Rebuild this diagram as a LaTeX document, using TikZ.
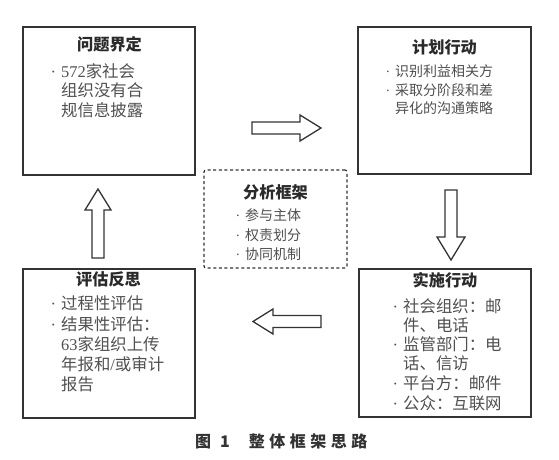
\documentclass[tikz,border=0pt]{standalone}
\usepackage{fontspec}
\newfontfamily\cjk{Noto Sans CJK SC}
\newfontfamily\lat{Liberation Serif}
\newcommand\bul{\llap{{\lat ·}\hspace{5pt}}}
\definecolor{edge}{HTML}{333333}
\definecolor{bodytext}{HTML}{505050}
\definecolor{titletext}{HTML}{2A2A2A}
\begin{document}
\begin{tikzpicture}[x=1pt,y=-1pt,
  box/.style={draw=edge, line width=1.3pt, rectangle, inner sep=0pt, outer sep=0pt, fill=white},
  dbox/.style={draw=edge, line width=1.2pt, dash pattern=on 3pt off 2.6pt, rounded corners=2pt, rectangle, inner sep=0pt, outer sep=0pt},
  ttl/.style={font=\cjk\bfseries\fontsize{16.2pt}{18pt}\selectfont, text=titletext, inner sep=0pt},
  bigline/.style={font=\cjk\fontsize{16.4pt}{19pt}\selectfont, text=bodytext, inner sep=0pt, anchor=west},
  smallline/.style={font=\cjk\fontsize{14pt}{17pt}\selectfont, text=bodytext, inner sep=0pt, anchor=west},
  blockarrow/.style={draw=edge, line width=1.3pt, fill=white, line join=miter}
]
\useasboundingbox (0,0) rectangle (559,460);
\fill[white] (0,0) rectangle (559,460);

% boxes
\node[box, minimum width=172pt, minimum height=148pt] (tl) at (109,101) {};
\node[box, minimum width=173pt, minimum height=147pt] (tr) at (444.5,100.5) {};
\node[box, minimum width=172pt, minimum height=149pt] (bl) at (109,343.5) {};
\node[box, minimum width=172pt, minimum height=148pt] (br) at (445,343) {};
\node[dbox, minimum width=143pt, minimum height=98pt] (fw) at (275.5,219) {};

% titles
\node[ttl] (tlt) at (109.5,44) {问题界定};
\node[ttl] (trt) at (444.5,47) {计划行动};
\node[ttl] (blt) at (108.5,279) {评估反思};
\node[ttl] (brt) at (445,280) {实施行动};
\node[ttl] (fwt) at (275.5,192) {分析框架};

% top-left text
\node[bigline] (tl1) at (61,71) {\bul{\lat 572}家社会};
\node[bigline] (tl2) at (61,90.5) {组织没有合};
\node[bigline] (tl3) at (61,110) {规信息披露};

% top-right text
\node[smallline] (tr1) at (395,71) {\bul 识别利益相关方};
\node[smallline] (tr2) at (395,90) {\bul 采取分阶段和差};
\node[smallline] (tr3) at (395,108.5) {异化的沟通策略};

% framework text
\node[smallline] (fw1) at (245,215) {\bul 参与主体};
\node[smallline] (fw2) at (245,235) {\bul 权责划分};
\node[smallline] (fw3) at (245,254) {\bul 协同机制};

% bottom-left text
\node[bigline] (bl1) at (61,303.5) {\bul 过程性评估};
\node[bigline] (bl2) at (61,324) {\bul 结果性评估：};
\node[bigline] (bl3) at (61,344) {{\lat 63}家组织上传};
\node[bigline] (bl4) at (61,364) {年报和{\lat /}或审计};
\node[bigline] (bl5) at (61,384) {报告};

% bottom-right text
\node[bigline] (br1) at (403,306) {\bul 社会组织：邮};
\node[bigline] (br2) at (403,325) {件、电话};
\node[bigline] (br3) at (403,344.5) {\bul 监管部门：电};
\node[bigline] (br4) at (403,363.5) {话、信访};
\node[bigline] (br5) at (403,383.5) {\bul 平台方：邮件};
\node[bigline] (br6) at (403,403) {\bul 公众：互联网};

% block arrows
\draw[blockarrow] (252,122) -- (300,122) -- (300,115) -- (321,128) -- (300,141) -- (300,134) -- (252,134) -- cycle;
\draw[blockarrow] (445,190) -- (457,190) -- (457,237) -- (465,237) -- (451,260) -- (437,237) -- (445,237) -- cycle;
\draw[blockarrow] (321,315.5) -- (273,315.5) -- (273,309) -- (253,321.5) -- (273,334) -- (273,327.5) -- (321,327.5) -- cycle;
\draw[blockarrow] (92,258) -- (92,210) -- (85,210) -- (98,189) -- (111,210) -- (104,210) -- (104,258) -- cycle;

% caption
\node[font=\cjk\bfseries\fontsize{16pt}{18pt}\selectfont, text=edge, inner sep=0pt, anchor=west] (cap) at (195,441)
  {图\hspace{9pt}1\hspace{19pt}{\addfontfeature{LetterSpace=28}整体框架思路}};
\end{tikzpicture}
\end{document}
